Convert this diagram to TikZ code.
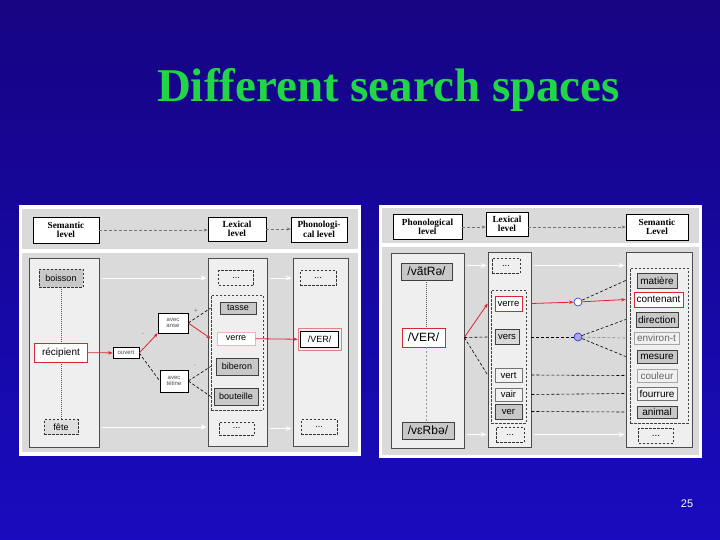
\documentclass[tikz,border=0pt]{standalone}
\usepackage{fontspec}
\setmainfont{Liberation Serif}
\setsansfont{Liberation Sans}
\usetikzlibrary{shapes,arrows.meta}
\usetikzlibrary{positioning}
\usepackage{xcolor}

\definecolor{bgtop}{RGB}{22,4,130}
\definecolor{bgbot}{RGB}{24,12,190}
\definecolor{titlegreen}{RGB}{34,212,72}
\definecolor{panelgray}{RGB}{218,218,218}
\definecolor{colfill}{RGB}{239,239,239}
\definecolor{wordgray}{RGB}{200,200,200}
\definecolor{linkred}{RGB}{214,40,50}
\definecolor{hubblue}{RGB}{40,40,220}
\definecolor{hubfill}{RGB}{170,165,235}

\begin{document}
\begin{tikzpicture}[x=1pt, y=-1pt,
  sz/.style 2 args={minimum width=#1, minimum height=#2},
  level/.style={draw=black, line width=0.7pt, fill=white, align=center, inner sep=0pt,
    font=\bfseries\fontsize{9.3}{9.6}\selectfont},
  column/.style={draw=black!70, line width=0.6pt, fill=colfill, inner sep=0pt},
  group/.style={draw=black!75, line width=0.6pt, dash pattern=on 2.5pt off 1.5pt, inner sep=0pt},
  word/.style={draw=black!75, line width=0.5pt, fill=wordgray, inner sep=0pt,
    font=\sffamily\fontsize{9}{9}\selectfont},
  rword/.style={word, font=\sffamily\fontsize{9.5}{9.5}\selectfont},
  sword/.style={word, font=\sffamily\fontsize{10}{10}\selectfont},
  phon/.style={word, font=\sffamily\fontsize{12}{12}\selectfont},
  dashbox/.style={dash pattern=on 2.5pt off 1.5pt, draw=black!80},
  redbox/.style={draw=linkred, fill=white},
  pale/.style={draw=black!55, fill=black!5},
  faint/.style={draw=black!35, fill=black!6, text=black!60},
  feat/.style={draw=black, line width=0.5pt, fill=white, align=center, inner sep=0pt,
    text=black!70, font=\sffamily\fontsize{6}{6.5}\selectfont},
  sign/.style={inner sep=0pt, text=black!70, font=\sffamily\fontsize{5.5}{5.5}\selectfont},
  hub/.style={circle, draw=hubblue, line width=0.6pt, minimum size=8, inner sep=0pt},
  levelarrow/.style={draw=black!55, line width=0.5pt, dash pattern=on 3pt off 2pt,
    -{Stealth[length=4pt,width=3pt]}},
  whitearrow/.style={draw=white, line width=1pt, shorten <=3pt, shorten >=1pt,
    -{Stealth[length=6pt,width=5pt]}},
  redarrow/.style={draw=linkred, line width=0.8pt, -{Stealth[length=4.5pt,width=3.5pt]}},
  blackdash/.style={draw=black, line width=0.6pt, dash pattern=on 3pt off 2pt},
  graydash/.style={draw=black!45, line width=0.6pt, dash pattern=on 3pt off 2pt},
  dotline/.style={draw=black!65, line width=0.7pt, dash pattern=on 1pt off 1pt},
  thindash/.style={draw=black!40, line width=0.4pt, dash pattern=on 2pt off 2pt}]

  % Slide
  \fill[top color=bgtop, bottom color=bgbot] (0,0) rectangle (720,540);
  \useasboundingbox (0,0) rectangle (720,540);
  \node[anchor=base, text=titlegreen, font=\bfseries\fontsize{47}{47}\selectfont]
    (title) at (388.5,102) {Different search spaces};
  \node[text=white, font=\sffamily\fontsize{11}{11}\selectfont] (pagenum) at (687,504) {25};

  % Production panel
  \fill[white] (19,205) rectangle (361,456);
  \fill[panelgray] (22,209) rectangle (358,249);
  \fill[panelgray] (22,253) rectangle (358,452);

  \node[level, sz={66}{26}] (lsem) at (66,230) {Semantic\\level};
  \node[level, sz={58}{24}] (llex) at (237,229) {Lexical\\level};
  \node[level, sz={56}{25}] (lpho) at (319,229.5) {Phonologi-\\cal level};
  \draw[levelarrow] (lsem.east) -- (lsem.east -| llex.west);
  \draw[levelarrow] (llex.east) -- (llex.east -| lpho.west);

  \node[column, sz={70}{189}] (lcol1) at (64,352.5) {};
  \node[column, sz={59}{188}] (lcol2) at (237.5,352) {};
  \node[column, sz={55}{188}] (lcol3) at (320.5,352) {};

  % Semantic level
  \node[word, dashbox, sz={44}{18}] (boisson) at (61,278) {boisson};
  \node[word, redbox, sz={53}{19}, font=\sffamily\fontsize{10}{10}\selectfont]
    (recipient) at (61,352.5) {récipient};
  \node[word, dashbox, fill=black!12, sz={34}{15}] (fete) at (61,427) {fête};
  \draw[dotline] (boisson) -- (recipient);
  \draw[dotline] (recipient) -- (fete);

  \node[feat, sz={26}{11}] (ouvert) at (126,353) {ouvert};
  \node[feat, sz={30}{20}] (anse) at (173,323) {avec\\anse};
  \node[feat, sz={28}{22}] (tetine) at (174,381) {avec\\tétine};
  \node[sign] (plus1) at (196,311) {+};
  \node[sign] (minus1) at (143,335) {-};
  \node[sign] (minus2) at (195,367) {'};

  % Lexical level
  \node[word, dashbox, fill=colfill, sz={35}{15}] (ldots1) at (236,278) {...};
  \node[group, sz={52}{115}] (lgroup) at (237,352.5) {};
  \node[word, sz={36}{12}] (tasse) at (238,308) {tasse};
  \node[word, draw=linkred!35, fill=white, sz={38}{13}] (lverre) at (236,338.5) {verre};
  \node[word, sz={42}{17}] (biberon) at (237,366.5) {biberon};
  \node[word, sz={44}{17}] (bouteille) at (236,396.5) {bouteille};
  \node[word, dashbox, fill=colfill, sz={35}{13}] (ldots2) at (236.5,428.5) {...};

  % Phonological level
  \node[word, dashbox, fill=colfill, sz={36}{15}] (pdots1) at (318,278) {...};
  \node[word, draw=linkred!60, fill=colfill, sz={43}{22}] (lVERbox) at (319.5,339.5) {};
  \node[word, draw=black, fill=white, sz={38}{16}] (lVER) at (319.5,339.5) {/VER/};
  \node[word, dashbox, fill=colfill, sz={36}{15}] (pdots2) at (319,427) {...};

  \draw[whitearrow] (boisson -| lcol1.east) -- (boisson -| lcol2.west);
  \draw[whitearrow] (ldots1 -| lcol2.east) -- (ldots1 -| lcol3.west);
  \draw[whitearrow] (fete -| lcol1.east) -- (fete -| lcol2.west);
  \draw[whitearrow] (ldots2 -| lcol2.east) -- (ldots2 -| lcol3.west);

  \draw[redarrow] (recipient) -- (ouvert);
  \draw[redarrow] (ouvert.east) -- (anse.south west);
  \draw[blackdash] (ouvert.east) -- (tetine.west);
  \draw[redarrow] (anse.east) -- (lverre -| lgroup.west);
  \draw[blackdash] (anse.east) -- (tasse -| lgroup.west);
  \draw[blackdash] (tetine.east) -- (biberon -| lgroup.west);
  \draw[blackdash] (tetine.east) -- (bouteille -| lgroup.west);
  \draw[redarrow] (lverre) -- (lVERbox);

  % Recognition panel
  \fill[white] (379,205) rectangle (702,458);
  \fill[panelgray] (382,208) rectangle (699,243);
  \fill[panelgray] (382,247) rectangle (699,455);

  \node[level, sz={69}{25}] (rpho) at (427.5,227) {Phonological\\level};
  \node[level, sz={42}{24}] (rlex) at (507,224) {Lexical\\level};
  \node[level, sz={62}{26}] (rsem) at (657,227) {Semantic\\Level};
  \draw[levelarrow] (rpho.east) -- (rpho.east -| rlex.west);
  \draw[levelarrow] (rsem.west -| rlex.east) -- (rsem.west);

  \node[column, sz={73}{195}] (rcol1) at (427.5,350.5) {};
  \node[column, sz={43}{195}] (rcol2) at (509.5,349.5) {};
  \node[column, sz={66}{195}] (rcol3) at (659,349.5) {};

  % Phonological level
  \node[phon, sz={51}{17}] (vatre) at (426.5,271.5) {/vãtRə/};
  \node[phon, redbox, sz={43}{19}] (rVER) at (423.5,337.5) {/VER/};
  \node[phon, sz={52}{17}] (verbe) at (428,430.5) {/vɛRbə/};
  \draw[dotline] (vatre.south) -- (vatre.south |- rVER.north);
  \draw[thindash] (rVER.south -| vatre) -- (vatre |- verbe.north);

  % Lexical level
  \node[rword, dashbox, fill=colfill, sz={28}{15}] (rdots1) at (506,265.5) {...};
  \node[group, sz={35}{133}] (rgroup2) at (508.5,356.5) {};
  \node[rword, redbox, sz={27}{15}] (rverre) at (508.5,303.5) {verre};
  \node[rword, fill=wordgray!70, sz={24}{15}] (vers) at (507,337) {vers};
  \node[rword, pale, sz={27}{14}] (vert) at (508.5,375) {vert};
  \node[rword, pale, sz={27}{13}] (vair) at (508.5,394.5) {vair};
  \node[rword, sz={27}{15}] (ver) at (508.5,411.5) {ver};
  \node[rword, dashbox, fill=colfill, sz={28}{15}] (rdots2) at (510,434.5) {...};

  % Semantic level
  \node[group, sz={58}{155}] (rgroup3) at (659,345.5) {};
  \node[sword, sz={40}{15}] (matiere) at (657,280.5) {matière};
  \node[sword, redbox, sz={49}{15}] (contenant) at (658.5,299.5) {contenant};
  \node[sword, sz={42}{15}] (direction) at (657,319.5) {direction};
  \node[sword, faint, sz={45}{12}] (environ) at (656.5,338) {environ-t};
  \node[sword, sz={40}{13}] (mesure) at (657,356.5) {mesure};
  \node[sword, faint, sz={40}{13}] (couleur) at (657,375.5) {couleur};
  \node[sword, pale, sz={40}{13}] (fourrure) at (657,393.5) {fourrure};
  \node[sword, sz={40}{12}] (animal) at (657,412) {animal};
  \node[sword, dashbox, fill=colfill, sz={35}{15}] (sdots) at (656,435.5) {...};

  \node[hub, fill=white] (hub1) at (578,302) {};
  \node[hub, fill=hubfill] (hub2) at (578,337) {};

  \draw[whitearrow] (rdots1 -| rcol1.east) -- (rdots1 -| rcol2.west);
  \draw[whitearrow] (rdots1 -| rcol2.east) -- (rdots1 -| rcol3.west);
  \draw[whitearrow] (rdots2 -| rcol1.east) -- (rdots2 -| rcol2.west);
  \draw[whitearrow] (rdots2 -| rcol2.east) -- (rdots2 -| rcol3.west);

  \draw[redarrow] (rVER -| rcol1.east) -- (rverre -| rcol2.west);
  \draw[blackdash] (rVER -| rcol1.east) -- (vers -| rcol2.west);
  \draw[blackdash] (rVER -| rcol1.east) -- (vert -| rcol2.west);
  \draw[redarrow] (rverre -| rcol2.east) -- (hub1);
  \draw[redarrow] (hub1) -- (contenant -| rcol3.west);
  \draw[blackdash] (hub1) -- (matiere -| rcol3.west);
  \draw[blackdash] (vers -| rcol2.east) -- (hub2);
  \draw[blackdash] (hub2) -- (direction -| rcol3.west);
  \draw[graydash] (hub2) -- (environ -| rcol3.west);
  \draw[blackdash] (hub2) -- (mesure -| rcol3.west);
  \draw[blackdash] (vert -| rcol2.east) -- (couleur -| rcol3.west);
  \draw[blackdash] (vair -| rcol2.east) -- (fourrure -| rcol3.west);
  \draw[blackdash] (ver -| rcol2.east) -- (animal -| rcol3.west);
\end{tikzpicture}
\end{document}
